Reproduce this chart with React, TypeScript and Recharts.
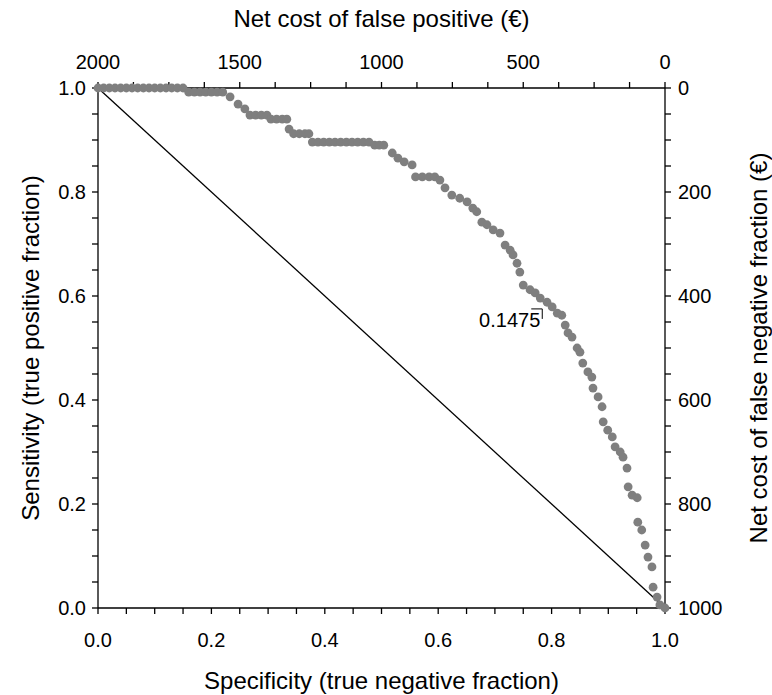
import {
  Label,
  ReferenceDot,
  ReferenceLine,
  Scatter,
  ScatterChart,
  XAxis,
  YAxis,
} from "recharts";

// ROC points: specificity (x) and sensitivity (y)
const specificity = [
  0, 0.01, 0.02, 0.03, 0.04, 0.05, 0.06, 0.07, 0.08, 0.09, 0.1, 0.11, 0.12, 0.13, 0.14, 0.15,
  0.16, 0.17, 0.18, 0.19, 0.2, 0.21, 0.22,
  0.233, 0.247, 0.259,
  0.268, 0.278, 0.288, 0.298,
  0.305, 0.315, 0.325, 0.333,
  0.337,
  0.345, 0.355, 0.365, 0.372,
  0.378, 0.388, 0.398, 0.408, 0.418, 0.428, 0.438, 0.448, 0.458, 0.468, 0.478,
  0.488, 0.496, 0.504,
  0.519, 0.529, 0.54, 0.554,
  0.56, 0.572, 0.584, 0.594,
  0.603, 0.612, 0.624, 0.638, 0.651, 0.661, 0.668, 0.677, 0.686, 0.697, 0.709, 0.718,
  0.727, 0.732, 0.739, 0.744, 0.75, 0.762, 0.771, 0.78, 0.792, 0.801, 0.81, 0.818, 0.824,
  0.829, 0.836, 0.845, 0.85, 0.855, 0.864, 0.871, 0.873, 0.882, 0.889, 0.891, 0.899, 0.907,
  0.912, 0.921, 0.926, 0.933, 0.935, 0.942, 0.951, 0.952, 0.959, 0.965, 0.97, 0.977, 0.979,
  0.986, 0.991, 1,
];
const sensitivity = [
  1, 1, 1, 1, 1, 1, 1, 1, 1, 1, 1, 1, 1, 1, 1, 1,
  0.992, 0.992, 0.992, 0.992, 0.992, 0.992, 0.992,
  0.983, 0.969, 0.96,
  0.948, 0.948, 0.948, 0.948,
  0.94, 0.94, 0.94, 0.94,
  0.921,
  0.912, 0.912, 0.912, 0.912,
  0.896, 0.896, 0.896, 0.896, 0.896, 0.896, 0.896, 0.896, 0.896, 0.896, 0.896,
  0.89, 0.89, 0.89,
  0.875, 0.865, 0.858, 0.852,
  0.829, 0.829, 0.829, 0.829,
  0.823, 0.808, 0.794, 0.788, 0.781, 0.769, 0.762, 0.742, 0.737, 0.727, 0.721, 0.698,
  0.688, 0.679, 0.663, 0.646, 0.621, 0.612, 0.606, 0.596, 0.588, 0.579, 0.567, 0.563, 0.544,
  0.529, 0.521, 0.5, 0.492, 0.471, 0.454, 0.444, 0.423, 0.406, 0.387, 0.358, 0.342, 0.329,
  0.31, 0.3, 0.29, 0.269, 0.233, 0.217, 0.212, 0.165, 0.15, 0.121, 0.098, 0.079, 0.04,
  0.021, 0.006, 0,
];

const fractionTicks = [
  0, 0.05, 0.1, 0.15, 0.2, 0.25, 0.3, 0.35, 0.4, 0.45, 0.5, 0.55, 0.6, 0.65, 0.7, 0.75, 0.8,
  0.85, 0.9, 0.95, 1,
];
const fractionLabels = [0, 0.2, 0.4, 0.6, 0.8, 1];

// secondary cost scales (top: false positive, right: false negative)
const fpCostTicks = [
  0, 125, 250, 375, 500, 625, 750, 875, 1000, 1125, 1250, 1375, 1500, 1625, 1750, 1875, 2000,
];
const fpCostLabels = [0, 500, 1000, 1500, 2000];
const fpCostRange = [0, 2000];

const fnCostTicks = [
  0, 50, 100, 150, 200, 250, 300, 350, 400, 450, 500, 550, 600, 650, 700, 750, 800, 850, 900,
  950, 1000,
];
const fnCostLabels = [0, 200, 400, 600, 800, 1000];
const fnCostRange = [0, 1000];

const cutoffLabel = "0.1475";
const cutoffAt = { x: 0.78, y: 0.554 };

const points = specificity.map((x, i) => ({ x, y: sensitivity[i] }));
// invisible anchor points so the cost axes get drawn
const costCorners = fpCostRange.map((fp, i) => ({ fp, fn: fnCostRange[i] }));

const FONT = "'Liberation Sans', Arial, sans-serif";
const tickStyle = { fill: "#000", fontSize: 20, fontFamily: FONT };
const lineStyle = { stroke: "#000", strokeWidth: 1.3 };

const only = (labels: number[], fmt: (v: number) => string) => (v: number) =>
  labels.some((l) => Math.abs(l - v) < 1e-6) ? fmt(v) : "";

const titleStyle = { fontSize: 24, fontFamily: FONT, fill: "#000" };

function SideTitle({ viewBox, value, dx }: any) {
  const cx = viewBox.x + dx;
  const cy = viewBox.y + viewBox.height / 2;
  return (
    <text
      x={cx}
      y={cy}
      transform={`rotate(-90 ${cx} ${cy})`}
      textAnchor="middle"
      dominantBaseline="central"
      style={titleStyle}
    >
      {value}
    </text>
  );
}

function CutoffMark(props: any) {
  const { cx, cy } = props;
  return (
    <g>
      <text
        x={cx}
        y={cy}
        textAnchor="end"
        dominantBaseline="central"
        style={{ fontSize: 20, fontFamily: FONT, fill: "#000" }}
      >
        {cutoffLabel}
      </text>
      <path
        d={`M${cx - 9},${cy - 11} L${cx + 2},${cy - 11} L${cx + 2},${cy - 1}`}
        fill="none"
        stroke="#000"
        strokeWidth={1}
      />
    </g>
  );
}

export default function App() {
  return (
    <div
      style={{
        position: "absolute",
        left: 0,
        top: 0,
        width: 772,
        height: 695,
        background: "#fff",
      }}
    >
      <ScatterChart width={772} height={695} margin={{ top: 0, right: 0, bottom: 0, left: 0 }}>
        <XAxis
          xAxisId="spec"
          dataKey="x"
          type="number"
          domain={[0, 1]}
          ticks={fractionTicks}
          interval={0}
          tickFormatter={only(fractionLabels, (v) => v.toFixed(1))}
          height={87}
          tickSize={6}
          tickMargin={19}
          tick={tickStyle}
          axisLine={lineStyle}
          tickLine={lineStyle}
        >
          <Label
            value="Specificity (true negative fraction)"
            position="insideBottom"
            offset={6}
            style={titleStyle}
          />
        </XAxis>
        <XAxis
          xAxisId="fp"
          dataKey="fp"
          orientation="top"
          type="number"
          domain={[0, 2000]}
          reversed
          ticks={fpCostTicks}
          interval={0}
          tickFormatter={only(fpCostLabels, (v) => String(v))}
          height={88}
          tickSize={6}
          tickMargin={13}
          tick={tickStyle}
          axisLine={lineStyle}
          tickLine={lineStyle}
        >
          <Label
            value="Net cost of false positive (€)"
            position="insideTop"
            offset={10}
            style={titleStyle}
          />
        </XAxis>
        <YAxis
          yAxisId="sens"
          dataKey="y"
          type="number"
          domain={[0, 1]}
          ticks={fractionTicks}
          interval={0}
          tickFormatter={only(fractionLabels, (v) => v.toFixed(1))}
          width={98}
          tickSize={6}
          tickMargin={6}
          tick={tickStyle}
          axisLine={lineStyle}
          tickLine={lineStyle}
        >
          <Label
            value="Sensitivity (true positive fraction)"
            content={(p: any) => <SideTitle {...p} value="Sensitivity (true positive fraction)" dx={30} />}
          />
        </YAxis>
        <YAxis
          yAxisId="fn"
          dataKey="fn"
          orientation="right"
          type="number"
          domain={[0, 1000]}
          reversed
          ticks={fnCostTicks}
          interval={0}
          tickFormatter={only(fnCostLabels, (v) => String(v))}
          width={107}
          tickSize={6}
          tickMargin={7}
          tick={tickStyle}
          axisLine={lineStyle}
          tickLine={lineStyle}
        >
          <Label
            value="Net cost of false negative fraction (€)"
            content={(p: any) => (
              <SideTitle {...p} value="Net cost of false negative fraction (€)" dx={93} />
            )}
          />
        </YAxis>
        <ReferenceLine
          xAxisId="spec"
          yAxisId="sens"
          segment={[
            { x: 0, y: 1 },
            { x: 1, y: 0 },
          ]}
          stroke="#000"
          strokeWidth={1.3}
        />
        <Scatter
          xAxisId="spec"
          yAxisId="sens"
          data={points}
          fill="#7f7f7f"
          shape={(p: any) => <circle cx={p.cx} cy={p.cy} r={4.4} fill="#7f7f7f" />}
          isAnimationActive={false}
        />
        <Scatter
          xAxisId="fp"
          yAxisId="fn"
          data={costCorners}
          shape={() => <g />}
          isAnimationActive={false}
        />
        <ReferenceDot
          xAxisId="spec"
          yAxisId="sens"
          x={cutoffAt.x}
          y={cutoffAt.y}
          shape={CutoffMark}
        />
      </ScatterChart>
    </div>
  );
}
